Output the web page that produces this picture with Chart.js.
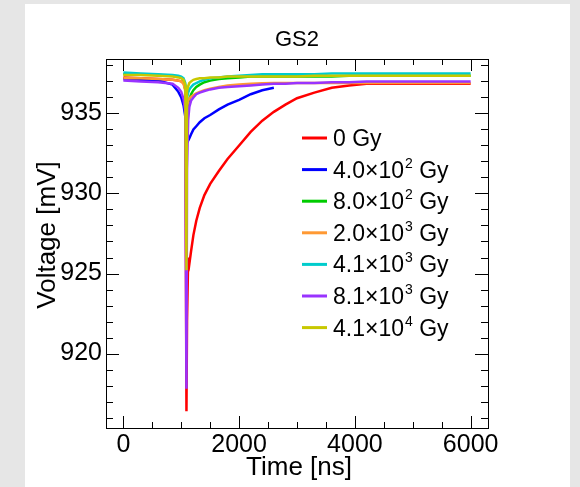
<!DOCTYPE html>
<html>
<head>
<meta charset="utf-8">
<script src="https://cdn.jsdelivr.net/npm/chart.js@4.4.1/dist/chart.umd.min.js"></script>
<style>
  html, body { margin: 0; padding: 0; background: #e6e6e6; }
  #panel { position: absolute; left: 25px; top: 4px; width: 545px; height: 483px; background: #fff; }
  canvas { display: block; }
</style>
</head>
<body>
<div id="panel"><canvas id="chart" width="545" height="483"></canvas></div>
<script>
// time axis shared by all traces (ns)
const timeNs = [0, 300, 600, 850, 950, 1000, 1040, 1070, 1090, 1100, 1120, 1140, 1170, 1210, 1260, 1320, 1400, 1500,
  1650, 1800, 2000, 2200, 2400, 2600, 2800, 3000, 3300, 3600, 3900, 4200, 4500, 5000, 5500, 6000];

// voltage traces (mV); the 4.0x10^2 Gy trace stops at ~2600 ns
const dose0 = [937.25, 937.2, 937.15, 937.1, 937.05, 937.0, 936.9, 936.5, 916.4, 922.0, 926.0, 925.6, 926.4, 927.4, 928.3, 929.1, 929.9, 930.6,
  931.4, 932.15, 933.0, 933.85, 934.55, 935.1, 935.55, 935.95, 936.3, 936.6, 936.75, 936.85, 936.85, 936.85, 936.85, 936.85];
const dose4e2 = [937.15, 937.1, 937.05, 936.8, 936.35, 936.0, 935.5, 934.8, 933.8, 933.4, 933.3, 933.45, 933.7, 934.0, 934.2, 934.45, 934.7, 934.9,
  935.25, 935.55, 935.85, 936.2, 936.45, 936.6, null, null, null, null, null, null, null, null, null, null];
const dose8e2 = [937.45, 937.45, 937.4, 937.35, 937.3, 937.25, 937.1, 936.7, 935.0, 935.3, 935.6, 935.9, 936.2, 936.45, 936.65, 936.8, 936.95, 937.05,
  937.15, 937.2, 937.25, 937.3, 937.3, 937.3, 937.3, 937.3, 937.3, 937.3, 937.35, 937.35, 937.35, 937.35, 937.35, 937.35];
const dose2e3 = [937.2, 937.2, 937.15, 937.1, 937.05, 937.0, 936.85, 936.4, 934.9, 935.4, 935.8, 935.95, 936.05, 936.15, 936.25, 936.35, 936.45, 936.55,
  936.65, 936.75, 936.8, 936.85, 936.88, 936.9, 936.9, 936.9, 936.9, 936.9, 936.9, 936.9, 936.9, 936.9, 936.9, 936.9];
const dose41e3 = [937.55, 937.5, 937.45, 937.4, 937.35, 937.3, 937.2, 936.9, 935.8, 936.0, 936.3, 936.5, 936.65, 936.8, 936.9, 937.0, 937.1, 937.2,
  937.25, 937.3, 937.35, 937.4, 937.45, 937.45, 937.45, 937.45, 937.45, 937.5, 937.5, 937.5, 937.5, 937.5, 937.5, 937.5];
const dose81e3 = [937.05, 937.0, 936.95, 936.85, 936.6, 936.35, 935.9, 935.1, 917.8, 931.5, 934.6, 935.4, 935.8, 936.0, 936.2, 936.3, 936.4, 936.5,
  936.6, 936.65, 936.7, 936.75, 936.8, 936.85, 936.85, 936.9, 936.9, 936.95, 936.95, 937.0, 937.0, 937.0, 937.0, 937.0];
const dose41e4 = [937.4, 937.4, 937.35, 937.3, 937.25, 937.2, 937.1, 936.8, 925.2, 936.4, 936.7, 936.9, 937.0, 937.1, 937.15, 937.2, 937.2, 937.25,
  937.25, 937.3, 937.3, 937.3, 937.3, 937.3, 937.3, 937.3, 937.35, 937.35, 937.35, 937.35, 937.35, 937.35, 937.35, 937.35];

const series = [dose0, dose4e2, dose8e2, dose2e3, dose41e3, dose81e3, dose41e4];
const seriesLabels = ['0 Gy', '4.0\u00d710^2 Gy', '8.0\u00d710^2 Gy', '2.0\u00d710^3 Gy', '4.1\u00d710^3 Gy', '8.1\u00d710^3 Gy', '4.1\u00d710^4 Gy'];
const seriesColors = ['#ff0000', '#0000ff', '#00cc00', '#ff9933', '#00cccc', '#9933ff', '#c8c800'];

const xTicks = [0, 2000, 4000, 6000];
const yTicks = [920, 925, 930, 935];

const FONT = "'Liberation Sans', Arial, sans-serif";

// frame + ROOT-style inner ticks on all four sides
const frameTicks = {
  id: 'frameTicks',
  afterDatasetsDraw(chart) {
    const { ctx, chartArea: a, scales: { x, y } } = chart;
    ctx.save();
    ctx.strokeStyle = '#000';
    ctx.lineWidth = 1;
    ctx.beginPath();
    for (let v = 0; v <= 6000; v += 500) {
      const px = Math.round(x.getPixelForValue(v)) + 0.5;
      const len = xTicks.includes(v) ? 12 : 6;
      ctx.moveTo(px, a.bottom); ctx.lineTo(px, a.bottom - len);
      ctx.moveTo(px, a.top); ctx.lineTo(px, a.top + len);
    }
    for (let v = Math.ceil(y.min); v <= y.max; v++) {
      const py = Math.round(y.getPixelForValue(v)) + 0.5;
      const len = yTicks.includes(v) ? 13 : 7;
      ctx.moveTo(a.left, py); ctx.lineTo(a.left + len, py);
      ctx.moveTo(a.right, py); ctx.lineTo(a.right - len, py);
    }
    ctx.stroke();
    ctx.strokeRect(Math.round(a.left) + 0.5, Math.round(a.top) + 0.5,
      Math.round(a.right - a.left), Math.round(a.bottom - a.top));
    ctx.restore();
  }
};

// title and axis titles, placed like the ROOT canvas
const texts = {
  id: 'texts',
  afterDraw(chart) {
    const { ctx, chartArea: a } = chart;
    ctx.save();
    ctx.fillStyle = '#000';
    ctx.textAlign = 'center';
    ctx.textBaseline = 'middle';
    ctx.font = `22px ${FONT}`;
    ctx.fillText('GS2', (a.left + a.right) / 2, 36);
    ctx.font = `26px ${FONT}`;
    ctx.fillText('Time [ns]', (a.left + a.right) / 2 + 2, 464);
    ctx.translate(23, 231);
    ctx.rotate(-Math.PI / 2);
    ctx.fillText('Voltage [mV]', 0, 0);
    ctx.restore();
  }
};

// legend inside the frame, with raised exponents
const insideLegend = {
  id: 'insideLegend',
  afterDraw(chart) {
    const { ctx } = chart;
    const x0 = 277, y0 = 134, step = 31.6;
    ctx.save();
    ctx.textBaseline = 'alphabetic';
    chart.data.datasets.forEach((ds, i) => {
      const yc = y0 + i * step;
      ctx.strokeStyle = ds.borderColor;
      ctx.lineWidth = 3;
      ctx.beginPath();
      ctx.moveTo(x0, yc); ctx.lineTo(x0 + 25, yc);
      ctx.stroke();
      ctx.fillStyle = '#000';
      const base = yc + 8;
      let tx = x0 + 31;
      const m = seriesLabels[i].match(/^(.*)\^(\d)(.*)$/);
      ctx.font = `23px ${FONT}`;
      if (!m) {
        ctx.fillText(seriesLabels[i], tx, base);
      } else {
        ctx.fillText(m[1], tx, base);
        tx += ctx.measureText(m[1]).width + 1;
        ctx.font = `14px ${FONT}`;
        ctx.fillText(m[2], tx, base - 10);
        tx += ctx.measureText(m[2]).width;
        ctx.font = `23px ${FONT}`;
        ctx.fillText(m[3], tx, base);
      }
    });
    ctx.restore();
  }
};

new Chart(document.getElementById('chart'), {
  type: 'line',
  data: {
    datasets: series.map((vals, i) => ({
      label: seriesLabels[i],
      data: timeNs.map((t, k) => ({ x: t, y: vals[k] })),
      borderColor: seriesColors[i],
      borderWidth: 2.5,
      pointRadius: 0,
      tension: 0,
      spanGaps: false,
      order: series.length - i
    }))
  },
  options: {
    responsive: false,
    animation: false,
    events: [],
    layout: { padding: { right: 82, left: 0, bottom: 0, top: 55 } },
    plugins: {
      legend: { display: false },
      tooltip: { enabled: false },
      title: { display: false }
    },
    scales: {
      x: {
        type: 'linear',
        min: -300,
        max: 6300,
        grid: { display: false, drawTicks: false },
        border: { display: false },
        afterBuildTicks: s => { s.ticks = xTicks.map(v => ({ value: v })); },
        afterFit: s => { s.height = 59; },
        ticks: { color: '#000', padding: 2, maxRotation: 0, font: { family: FONT, size: 25 }, callback: v => String(v) }
      },
      y: {
        min: 915.35,
        max: 938.4,
        grid: { display: false, drawTicks: false },
        border: { display: false },
        afterBuildTicks: s => { s.ticks = yTicks.map(v => ({ value: v })); },
        afterFit: s => { s.width = 81; },
        ticks: { color: '#000', padding: 4, font: { family: FONT, size: 25 }, callback: v => String(v) }
      }
    }
  },
  plugins: [frameTicks, texts, insideLegend]
});
</script>
</body>
</html>
